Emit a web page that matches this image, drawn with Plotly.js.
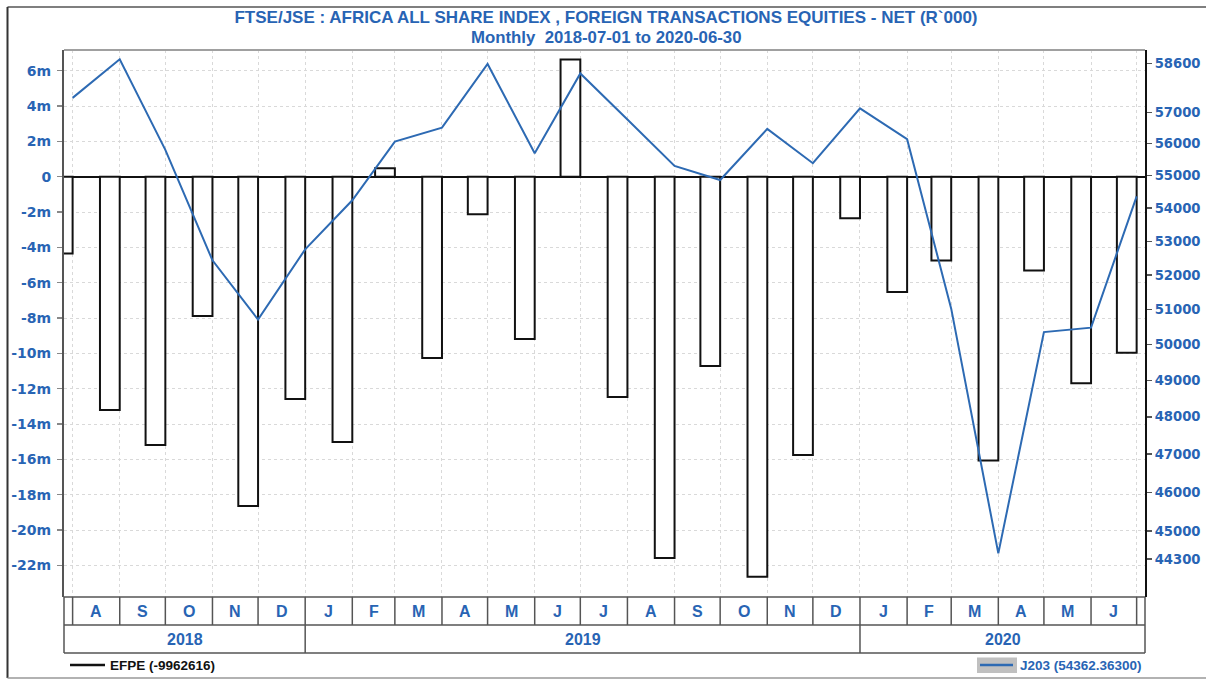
<!DOCTYPE html>
<html>
<head>
<meta charset="utf-8">
<script src="https://cdn.plot.ly/plotly-3.0.1.min.js"></script>
<style>
html,body{margin:0;padding:0;background:#fff;}
#chart{width:1206px;height:680px;}
</style>
</head>
<body>
<div id="chart"></div>
<script>
// ---- data ----
const monthEnds = ['2018-07-31','2018-08-31','2018-09-30','2018-10-31','2018-11-30','2018-12-31',
  '2019-01-31','2019-02-28','2019-03-31','2019-04-30','2019-05-31','2019-06-30',
  '2019-07-31','2019-08-31','2019-09-30','2019-10-31','2019-11-30','2019-12-31',
  '2020-01-31','2020-02-29','2020-03-31','2020-04-30','2020-05-31','2020-06-30'];
// EFPE net foreign transactions (R`000)
const efpe = [-4340000,-13200000,-15180000,-7880000,-18640000,-12580000,
  -15010000,480000,-10260000,-2130000,-9190000,6640000,
  -12470000,-21580000,-10710000,-22650000,-15750000,-2350000,
  -6530000,-4740000,-16070000,-5310000,-11690000,-9962616];
// J203 index level
const j203 = [57468,58732,55805,52433,50707,52760,
  54240,56067,56511,58577,55701,58264,
  56773,55303,54865,56469,55387,57126,
  56143,51023,44442,50353,50478,54362.363];
const leftTickVals = [6e6,4e6,2e6,0,-2e6,-4e6,-6e6,-8e6,-10e6,-12e6,-14e6,-16e6,-18e6,-20e6,-22e6];
const leftTickText = ['6m','4m','2m','0','-2m','-4m','-6m','-8m','-10m','-12m','-14m','-16m','-18m','-20m','-22m'];
const rightTickVals = [58600,57000,56000,55000,54000,53000,52000,51000,50000,49000,48000,47000,46000,45000,44300];
const rightTickText = ['58600','57000','56000','55000','54000','53000','52000','51000','50000','49000','48000','47000','46000','45000','44300'];
const monthLetters = ['J','F','M','A','M','J','J','A','S','O','N','D'];
const years = ['2018','2019','2020'];
const titleText = 'FTSE/JSE : AFRICA ALL SHARE INDEX , FOREIGN TRANSACTIONS EQUITIES - NET (R`000)';
const subtitleText = 'Monthly  2018-07-01 to 2020-06-30';
const series1Name = 'EFPE';
const series2Name = 'J203';

// ---- layout geometry ----
const W = 1206, H = 680;
const L = 64, R = 1145, T = 50, B = 597;
const PW = R - L, PH = B - T;
const X = px => (px - L) / PW;
const Y = py => (B - py) / PH;
const DAY = 86400000;
const xRange = ['2018-07-25 08:00', '2020-07-05 12:00'];
const blue = '#2864b4';
const lineBlue = '#2d6ab3';
const arial = 'Liberation Sans, Arial, sans-serif';
const dejavu = 'DejaVu Sans, Verdana, sans-serif';

const barW = 13 * DAY;

const traces = [
  {type:'bar', x: monthEnds, y: efpe, width: barW, offset: -barW,
   marker:{color:'#ffffff', line:{color:'#111111', width:2}},
   yaxis:'y', xaxis:'x', hoverinfo:'x+y', showlegend:false},
  {type:'scatter', mode:'lines', x: monthEnds, y: j203,
   line:{color:lineBlue, width:2}, yaxis:'y2', xaxis:'x', showlegend:false}
];

const shapes = [];
const annotations = [];
const cellLine = {color:'#555555', width:1.5};

// month row and year row frame
[B, 625, 653].forEach(py => shapes.push({type:'line', xref:'paper', yref:'paper', x0:0, x1:1, y0:Y(py), y1:Y(py), line:cellLine}));
[0,1].forEach(xx => shapes.push({type:'line', xref:'paper', yref:'paper', x0:xx, x1:xx, y0:Y(B), y1:Y(653), line:cellLine}));
monthEnds.forEach(d => shapes.push({type:'line', xref:'x', yref:'paper', x0:d, x1:d, y0:Y(B), y1:Y(625), line:cellLine}));
['2018-12-31','2019-12-31'].forEach(d => shapes.push({type:'line', xref:'x', yref:'paper', x0:d, x1:d, y0:Y(625), y1:Y(653), line:cellLine}));

// month labels
for (let i = 1; i < monthEnds.length; i++) {
  const a = new Date(monthEnds[i-1] + 'T00:00:00Z').getTime();
  const b = new Date(monthEnds[i] + 'T00:00:00Z').getTime();
  const mid = new Date((a + b) / 2);
  const m = new Date(monthEnds[i] + 'T00:00:00Z').getUTCMonth();
  annotations.push({xref:'x', yref:'paper', x: mid.toISOString().slice(0,19).replace('T',' '), y: Y(611),
    text: monthLetters[m], showarrow:false, xanchor:'center', yanchor:'middle',
    font:{family:arial, size:16, color:blue, weight:'bold'}});
}
// year labels
const yStart = [new Date(xRange[0].replace(' ','T')+'Z').getTime(), new Date('2018-12-31T00:00:00Z').getTime(), new Date('2019-12-31T00:00:00Z').getTime()];
const yEnd = [new Date('2018-12-31T00:00:00Z').getTime(), new Date('2019-12-31T00:00:00Z').getTime(), new Date(xRange[1].replace(' ','T')+'Z').getTime()];
years.forEach((yr, i) => {
  const mid = new Date((yStart[i] + yEnd[i]) / 2);
  annotations.push({xref:'x', yref:'paper', x: mid.toISOString().slice(0,19).replace('T',' '), y: Y(639.5),
    text: yr, showarrow:false, xanchor:'center', yanchor:'middle',
    font:{family:arial, size:16, color:blue, weight:'bold'}});
});

// plot frame top
shapes.push({type:'line', xref:'paper', yref:'paper', x0:0, x1:1, y0:1, y1:1, line:{color:'#a0a0a0', width:2}});

// outer border
shapes.push({type:'line', xref:'paper', yref:'paper', x0:X(7.5), x1:X(1206), y0:Y(7), y1:Y(7), line:{color:'#555555', width:1.5}});
shapes.push({type:'line', xref:'paper', yref:'paper', x0:X(7.5), x1:X(7.5), y0:Y(7), y1:Y(678), line:{color:'#333333', width:2}});
shapes.push({type:'line', xref:'paper', yref:'paper', x0:X(7.5), x1:X(1206), y0:Y(678), y1:Y(678), line:{color:'#999999', width:1.5}});

// legend items
shapes.push({type:'line', xref:'paper', yref:'paper', x0:X(70), x1:X(105), y0:Y(665), y1:Y(665), line:{color:'#111111', width:2.5}});
annotations.push({xref:'paper', yref:'paper', x:X(108), y:Y(665), xanchor:'left', yanchor:'middle', showarrow:false,
  text: series1Name + ' (' + efpe[efpe.length-1] + ')', font:{family:arial, size:13.5, color:'#111111', weight:'bold'}});
shapes.push({type:'rect', xref:'paper', yref:'paper', x0:X(977), x1:X(1017), y0:Y(673), y1:Y(657.5), fillcolor:'#c0c0c0', line:{width:0}});
shapes.push({type:'line', xref:'paper', yref:'paper', x0:X(980), x1:X(1013), y0:Y(665), y1:Y(665), line:{color:lineBlue, width:2.5}});
annotations.push({xref:'paper', yref:'paper', x:X(1018), y:Y(665), xanchor:'left', yanchor:'middle', showarrow:false,
  text: series2Name + ' (' + j203[j203.length-1].toFixed(5) + ')', font:{family:arial, size:13.5, color:blue, weight:'bold'}});

// subtitle
annotations.push({xref:'paper', yref:'paper', x:X(606), y:Y(37.5), xanchor:'center', yanchor:'middle', showarrow:false,
  text: subtitleText.replace(/  /g, ' &nbsp;'), font:{family:arial, size:16.8, color:blue, weight:'bold'}});

const layout = {
  width: W, height: H,
  margin:{l:L, r:W-R, t:T, b:H-B, pad:0},
  paper_bgcolor:'#ffffff', plot_bgcolor:'#ffffff',
  showlegend:false,
  title:{text:titleText, x:606/W, xanchor:'center', xref:'container', y:1-17.5/H, yref:'container', yanchor:'middle',
    font:{family:arial, size:17, color:blue, weight:'bold'}},
  xaxis:{type:'date', range:xRange, tickvals:monthEnds, showticklabels:false, ticks:'',
    showgrid:true, gridcolor:'#d9d9d9', griddash:'dot', gridwidth:1, zeroline:false, showline:false},
  yaxis:{range:[-23.79e6, 7.172e6], tickvals:leftTickVals, ticktext:leftTickText,
    showgrid:true, gridcolor:'#d9d9d9', griddash:'dot', gridwidth:1,
    zeroline:true, zerolinecolor:'#111111', zerolinewidth:2,
    showline:true, linecolor:'#555555', linewidth:2,
    ticks:'outside', ticklen:5, tickcolor:'#888888', tickwidth:1.5, ticklabelstandoff:3,
    tickfont:{family:dejavu, size:14, color:blue, weight:'bold'}},
  yaxis2:{type:'log', overlaying:'y', side:'right', range:[4.637089, 4.771158],
    tickvals:rightTickVals, ticktext:rightTickText, showgrid:false, zeroline:false,
    showline:true, linecolor:'#111111', linewidth:2,
    ticks:'outside', ticklen:5, tickcolor:'#555555', tickwidth:1.5, ticklabelstandoff:0,
    tickfont:{family:dejavu, size:13.2, color:blue, weight:'bold'}},
  bargap:0,
  shapes: shapes,
  annotations: annotations
};

Plotly.newPlot('chart', traces, layout, {displayModeBar:false, staticPlot:true});
</script>
</body>
</html>
